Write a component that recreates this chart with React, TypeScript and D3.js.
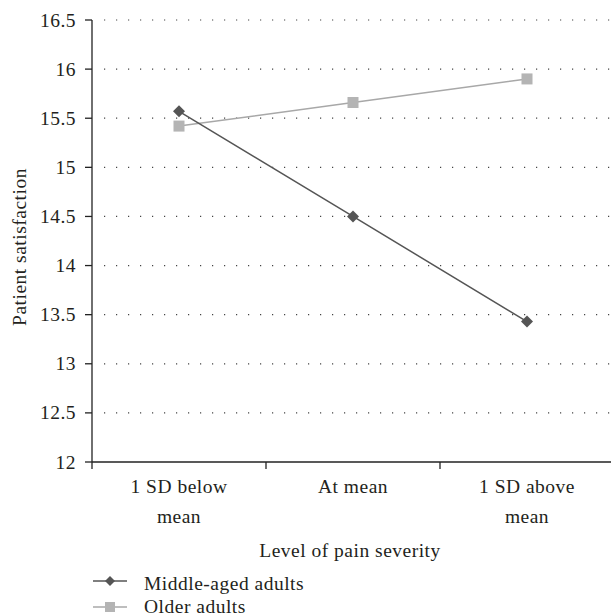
import React from "react";
import * as d3 from "d3";

const categories = ["1 SD below|mean", "At mean", "1 SD above|mean"];
const middleAged = [15.57, 14.5, 13.43];
const older = [15.42, 15.66, 15.9];
const yTicks = [12, 12.5, 13, 13.5, 14, 14.5, 15, 15.5, 16, 16.5];
const seriesNames = ["Middle-aged adults", "Older adults"];

const W = 611, H = 616;
const FONT = "'Liberation Serif', 'DejaVu Serif', serif";
const FS = 19.5;
const LS = 0.5;

export default function App() {
  const x = d3.scaleBand<string>().domain(categories).range([92, 614]);
  const y = d3.scaleLinear().domain([12, 16.5]).range([462, 20]);
  const cx = (c: string) => (x(c) as number) + x.bandwidth() / 2;
  const line = d3.line<number>().x((_, i) => cx(categories[i])).y((v) => y(v));
  const darkC = "#555555";
  const lightC = "#b4b4b4";
  const lightLine = "#a8a8a8";
  const textC = "#231f20";
  const diamond = (px: number, py: number, r = 6) =>
    `M${px},${py - r}L${px + r},${py}L${px},${py + r}L${px - r},${py}Z`;
  const tp = { fontFamily: FONT, fontSize: FS, fill: textC, letterSpacing: LS };

  return (
    <svg width={W} height={H} style={{ position: "absolute", left: 0, top: 0 }}>
      <rect width={W} height={H} fill="#fff" />
      {/* grid */}
      {yTicks.filter((t) => t > 12).map((t) => (
        <line key={t} x1={104} x2={W} y1={y(t)} y2={y(t)} stroke="#444" strokeWidth={1.2}
          strokeDasharray="1.2 10.8" />
      ))}
      {/* y axis */}
      <line x1={92} x2={92} y1={y(16.5)} y2={y(12)} stroke="#222" strokeWidth={1.3} />
      {yTicks.map((t) => (
        <g key={t}>
          <line x1={85} x2={92} y1={y(t)} y2={y(t)} stroke="#222" strokeWidth={1.3} />
          <text x={76} y={y(t) + 6.5} textAnchor="end" {...tp}>
            {String(t)}
          </text>
        </g>
      ))}
      {/* x axis */}
      <line x1={92} x2={W} y1={y(12)} y2={y(12)} stroke="#222" strokeWidth={1.3} />
      {categories.map((c) => (
        <line key={c} x1={x(c) as number} x2={x(c) as number} y1={y(12)} y2={y(12) + 7} stroke="#222" strokeWidth={1.3} />
      ))}
      {categories.map((c) =>
        c.split("|").map((part, j) => (
          <text key={c + j} x={cx(c)} y={493 + j * 30} textAnchor="middle" {...tp}>
            {part}
          </text>
        ))
      )}
      <text x={350} y={557} textAnchor="middle" {...tp}>
        Level of pain severity
      </text>
      <text transform={`translate(26,${247}) rotate(-90)`} textAnchor="middle" {...tp}>
        Patient satisfaction
      </text>
      {/* series */}
      <path d={line(older) || ""} fill="none" stroke={lightLine} strokeWidth={1.5} />
      <path d={line(middleAged) || ""} fill="none" stroke={darkC} strokeWidth={1.5} />
      {older.map((v, i) => (
        <rect key={i} x={cx(categories[i]) - 5.5} y={y(v) - 5.5} width={11} height={11} fill={lightC} />
      ))}
      {middleAged.map((v, i) => (
        <path key={i} d={diamond(cx(categories[i]), y(v))} fill={darkC} />
      ))}
      {/* legend */}
      <line x1={93} x2={127} y1={581} y2={581} stroke={darkC} strokeWidth={1.5} />
      <path d={diamond(110, 581, 5)} fill={darkC} />
      <text x={144} y={590} {...tp}>{seriesNames[0]}</text>
      <line x1={93} x2={127} y1={607} y2={607} stroke={lightLine} strokeWidth={1.5} />
      <rect x={105} y={602} width={10} height={10} fill={lightC} />
      <text x={144} y={613} {...tp}>{seriesNames[1]}</text>
    </svg>
  );
}
